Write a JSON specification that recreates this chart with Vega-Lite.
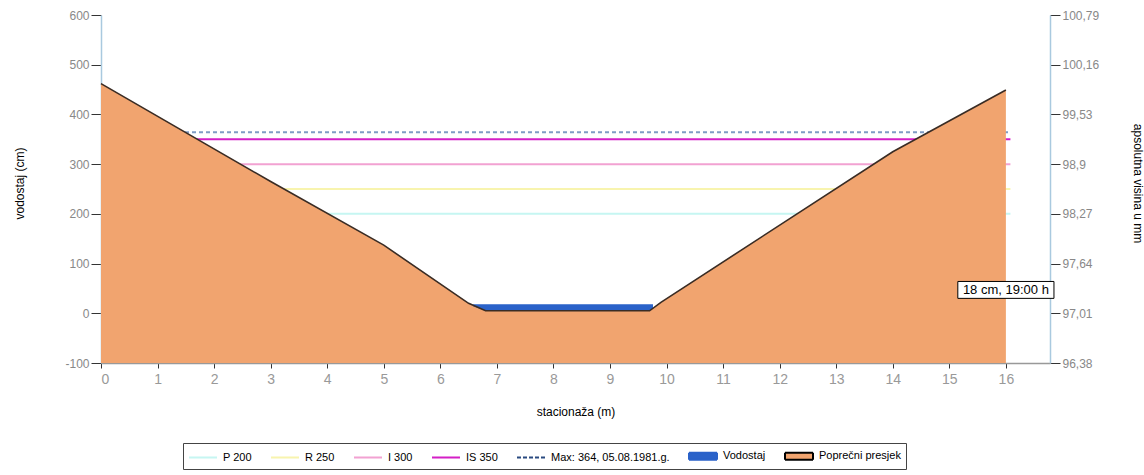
{
  "$schema": "https://vega.github.io/schema/vega-lite/v6.json",
  "autosize": {"type": "none"},
  "width": 949,
  "height": 348,
  "padding": {"left": 101, "top": 15, "right": 94, "bottom": 112},
  "background": "white",
  "config": {
    "view": {"stroke": null},
    "font": "Liberation Sans",
    "axis": {"grid": false, "labelFont": "Liberation Sans", "titleFont": "Liberation Sans"},
    "legend": {
      "padding": 5,
      "strokeColor": "#444",
      "fillColor": "white",
      "labelFont": "Liberation Sans",
      "labelFontSize": 11,
      "labelColor": "#000",
      "labelOffset": 19,
      "columnPadding": 15,
      "symbolSize": 196,
      "symbolStrokeWidth": 2
    }
  },
  "datasets": {
    "profile": [
      {"st": 0, "h": 462, "series": "Poprečni presjek"},
      {"st": 3, "h": 265, "series": "Poprečni presjek"},
      {"st": 5, "h": 137, "series": "Poprečni presjek"},
      {"st": 6.5, "h": 20, "series": "Poprečni presjek"},
      {"st": 6.8, "h": 5, "series": "Poprečni presjek"},
      {"st": 9.7, "h": 5, "series": "Poprečni presjek"},
      {"st": 9.9, "h": 22, "series": "Poprečni presjek"},
      {"st": 14, "h": 325, "series": "Poprečni presjek"},
      {"st": 16, "h": 449, "series": "Poprečni presjek"}
    ],
    "water": [
      {"st": 6.58, "top": 18, "bottom": 14, "series": "Vodostaj"},
      {"st": 6.8, "top": 18, "bottom": 5, "series": "Vodostaj"},
      {"st": 9.7, "top": 18, "bottom": 5, "series": "Vodostaj"},
      {"st": 9.76, "top": 18, "bottom": 10, "series": "Vodostaj"}
    ],
    "levels": [
      {"series": "P 200", "level": 200},
      {"series": "R 250", "level": 250},
      {"series": "I 300", "level": 300},
      {"series": "IS 350", "level": 350}
    ],
    "maxlevel": [
      {"series": "Max: 364, 05.08.1981.g.", "level": 364}
    ],
    "note": [
      {"label": "18 cm, 19:00 h"}
    ]
  },
  "layer": [
    {
      "data": {"name": "levels"},
      "mark": {"type": "rule", "strokeWidth": 2},
      "encoding": {
        "y": {"field": "level", "type": "quantitative", "scale": {"domain": [-100, 600], "nice": false, "zero": false}, "axis": null},
        "x": {"datum": 0, "type": "quantitative", "scale": {"domain": [0, 16.78], "nice": false, "zero": false}, "axis": null},
        "x2": {"datum": 16.08},
        "stroke": {
          "field": "series", "type": "nominal",
          "scale": {
            "domain": ["P 200", "R 250", "I 300", "IS 350", "Max: 364, 05.08.1981.g.", "Vodostaj", "Poprečni presjek"],
            "range": ["#c6f6f2", "#f8f4ae", "#f2a2d2", "#d41fc6", "#2a4a80", "#2a62c9", "#000000"]
          },
          "legend": {
            "orient": "none",
            "legendX": 82,
            "legendY": 428,
            "direction": "horizontal",
            "title": null,
            "encode": {
              "symbols": {
                "update": {
                  "shape": {"signal": "(datum.value === 'Vodostaj' || datum.value === 'Poprečni presjek') ? 'M-1,-0.5H3V0.5H-1Z' : 'M-1,0H3'"},
                  "strokeDash": {"signal": "datum.value === 'Max: 364, 05.08.1981.g.' ? [4, 2] : [1, 0]"},
                  "strokeWidth": {"value": 2},
                  "opacity": {"value": 1}
                }
              }
            }
          }
        }
      }
    },
    {
      "data": {"name": "maxlevel"},
      "mark": {"type": "rule", "strokeWidth": 2, "strokeDash": [4, 3], "stroke": "#7f9cc4"},
      "encoding": {
        "y": {"field": "level", "type": "quantitative", "axis": null},
        "x": {"datum": 0, "type": "quantitative", "axis": null},
        "x2": {"datum": 16.08}
      }
    },
    {
      "data": {"name": "profile"},
      "mark": {"type": "area", "opacity": 1},
      "encoding": {
        "x": {
          "field": "st", "type": "quantitative",
          "axis": {
            "values": [0,1,2,3,4,5,6,7,8,9,10,11,12,13,14,15,16],
            "title": "stacionaža (m)",
            "titleFontSize": 12, "titleFontWeight": "normal", "titleColor": "#000",
            "titleY": 48, "titleBaseline": "middle",
            "labelFontSize": 14, "labelColor": "#999", "labelPadding": 4,
            "tickSize": 5, "tickColor": "#333", "domainColor": "#999", "domainWidth": 1.5
          }
        },
        "y": {
          "field": "h", "type": "quantitative",
          "axis": {
            "orient": "left",
            "values": [-100, 0, 100, 200, 300, 400, 500, 600],
            "labelExpr": "toString(datum.value)",
            "title": "vodostaj (cm)",
            "titleFontSize": 12, "titleFontWeight": "normal", "titleColor": "#000",
            "titleX": -82, "titleY": 168, "titleAlign": "center", "titleBaseline": "middle",
            "labelFontSize": 12, "labelColor": "#888", "labelPadding": 2,
            "tickSize": 10, "tickColor": "#333", "domainColor": "#a9c9df", "domainWidth": 1.5
          }
        },
        "y2": {"datum": -100},
        "fill": {
          "field": "series", "type": "nominal",
          "scale": {
            "domain": ["P 200", "R 250", "I 300", "IS 350", "Max: 364, 05.08.1981.g.", "Vodostaj", "Poprečni presjek"],
            "range": ["transparent", "transparent", "transparent", "transparent", "transparent", "#2a62c9", "#f1a46f"]
          },
          "legend": {
            "orient": "none",
            "legendX": 82,
            "legendY": 428,
            "direction": "horizontal",
            "title": null
          }
        }
      }
    },
    {
      "data": {"name": "water"},
      "mark": {"type": "area", "opacity": 1},
      "encoding": {
        "x": {"field": "st", "type": "quantitative", "axis": null},
        "y": {"field": "top", "type": "quantitative", "axis": null},
        "y2": {"field": "bottom"},
        "fill": {"field": "series", "type": "nominal"}
      }
    },
    {
      "data": {"name": "profile"},
      "mark": {"type": "line", "color": "#3a2c24", "strokeWidth": 1.6},
      "encoding": {
        "x": {"field": "st", "type": "quantitative", "axis": null},
        "y": {
          "field": "h", "type": "quantitative",
          "axis": {
            "orient": "right",
            "values": [-100, 0, 100, 200, 300, 400, 500, 600],
            "labelExpr": "replace(toString(round((97.01 + datum.value * 0.0063) * 100) / 100), '.', ',')",
            "title": "apsolutna visina u mm",
            "titleFontSize": 12, "titleFontWeight": "normal", "titleColor": "#000",
            "titleX": 87, "titleY": 168, "titleAlign": "center", "titleBaseline": "middle",
            "labelFontSize": 12, "labelColor": "#888", "labelPadding": 2,
            "tickSize": 10, "tickColor": "#333", "domainColor": "#a9c9df", "domainWidth": 1.5
          }
        }
      }
    },
    {
      "data": {"name": "note"},
      "mark": {"type": "rect", "fill": "white", "stroke": "#000", "strokeWidth": 1},
      "encoding": {
        "x": {"datum": 15.15, "type": "quantitative", "axis": null},
        "x2": {"datum": 16.85},
        "y": {"datum": 30, "type": "quantitative", "axis": null},
        "y2": {"datum": 64}
      }
    },
    {
      "data": {"name": "note"},
      "mark": {"type": "text", "fontSize": 13, "color": "#000", "align": "center", "baseline": "middle"},
      "encoding": {
        "x": {"datum": 16.0, "type": "quantitative", "axis": null},
        "y": {"datum": 47, "type": "quantitative", "axis": null},
        "text": {"field": "label"}
      }
    }
  ],
  "resolve": {"axis": {"y": "independent", "x": "independent"}}
}
